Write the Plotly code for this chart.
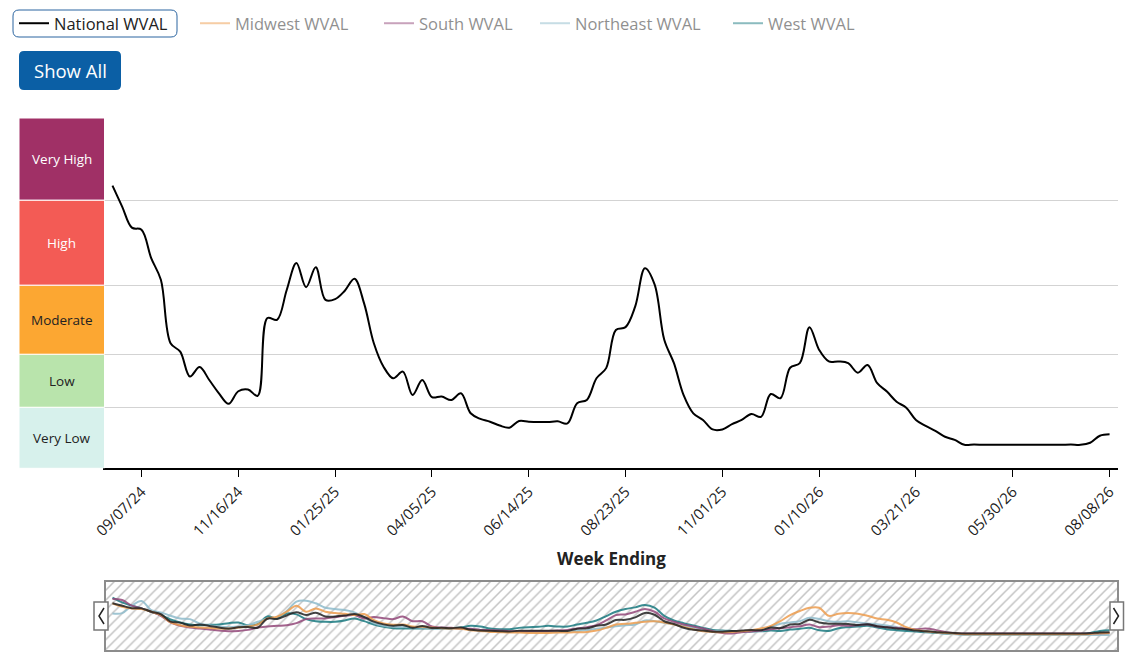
import pandas as pd
import plotly.graph_objects as go

# weekly WVAL (display scale 0-10, see level_edges)
weeks = pd.date_range("2024-08-17", periods=104, freq="7D")

national_wval = [
    8.07, 7.47, 6.87, 6.81, 6.0, 5.38, 3.57, 3.33, 2.62, 2.89, 2.52, 2.14, 1.84,
    2.2, 2.25, 2.07, 4.29, 4.24, 5.09, 5.86, 5.17, 5.74, 4.81, 4.83, 5.07, 5.41,
    4.7, 3.57, 2.9, 2.57, 2.76, 2.09, 2.52, 2.03, 2.05, 1.95, 2.14, 1.57, 1.41,
    1.33, 1.22, 1.16, 1.35, 1.33, 1.32, 1.32, 1.34, 1.28, 1.86, 1.95, 2.57, 2.86,
    3.95, 4.03, 4.62, 5.71, 5.25, 3.67, 3.0, 2.09, 1.57, 1.38, 1.11, 1.11, 1.26,
    1.38, 1.55, 1.47, 2.12, 2.0, 2.87, 3.0, 4.03, 3.38, 3.05, 3.05, 3.0, 2.73,
    2.95, 2.43, 2.19, 1.9, 1.73, 1.38, 1.21, 1.07, 0.9, 0.81, 0.67, 0.68, 0.67,
    0.67, 0.67, 0.67, 0.67, 0.67, 0.67, 0.67, 0.67, 0.68, 0.67, 0.73, 0.93, 0.97,
]
midwest_wval = [
    8.05, 7.22, 6.81, 6.65, 5.99, 5.17, 3.37, 2.71, 2.3, 2.13, 2.05, 1.89, 1.89,
    2.13, 2.38, 2.87, 4.35, 4.76, 5.99, 7.47, 5.99, 6.81, 5.99, 5.66, 5.5, 5.17,
    5.42, 3.94, 3.12, 2.79, 2.87, 2.38, 2.3, 2.13, 1.97, 1.89, 1.81, 1.48, 1.31,
    1.07, 0.99, 0.9, 0.9, 0.82, 0.82, 0.82, 0.9, 0.9, 0.99, 1.07, 1.4, 2.05,
    2.87, 3.04, 3.28, 3.53, 3.69, 3.37, 2.87, 2.3, 1.72, 1.23, 1.07, 0.99, 1.07,
    1.23, 1.48, 1.89, 2.55, 3.69, 5.17, 6.16, 6.98, 6.98, 5.0, 5.5, 5.66, 5.5,
    5.0, 4.35, 4.02, 3.37, 2.22, 1.56, 1.23, 0.99, 0.82, 0.66, 0.49, 0.49, 0.49,
    0.49, 0.49, 0.49, 0.49, 0.49, 0.49, 0.49, 0.49, 0.49, 0.49, 0.57, 0.74, 0.82,
]
south_wval = [
    9.11, 8.87, 7.47, 6.81, 5.99, 5.0, 3.37, 2.55, 2.13, 1.89, 1.64, 1.4, 1.23,
    1.31, 1.56, 2.13, 2.38, 2.55, 2.71, 3.2, 4.19, 4.35, 4.35, 4.68, 5.0, 5.17,
    4.35, 4.68, 4.43, 4.19, 4.84, 3.69, 3.69, 2.38, 2.13, 2.05, 1.89, 1.81, 1.56,
    1.48, 1.4, 1.23, 1.23, 1.23, 1.31, 1.31, 1.4, 1.56, 1.89, 2.22, 2.71, 3.86,
    5.17, 5.34, 5.99, 6.65, 5.99, 4.35, 3.53, 2.87, 2.38, 1.89, 1.23, 0.82, 0.66,
    0.99, 1.15, 1.4, 1.72, 1.97, 2.22, 2.46, 2.87, 2.22, 2.38, 2.71, 2.55, 2.71,
    2.87, 2.38, 2.22, 2.05, 1.81, 1.72, 1.89, 1.56, 1.07, 0.74, 0.66, 0.66, 0.66,
    0.66, 0.66, 0.66, 0.66, 0.66, 0.66, 0.66, 0.66, 0.66, 0.66, 0.66, 0.74, 0.82,
]
northeast_wval = [
    5.58, 5.66, 7.47, 8.62, 6.4, 5.83, 5.0, 4.35, 4.19, 3.12, 2.71, 2.38, 2.22,
    2.38, 2.71, 3.53, 4.35, 4.6, 6.16, 8.46, 8.7, 8.05, 6.98, 6.65, 6.4, 5.83,
    4.6, 3.2, 2.55, 2.3, 2.3, 2.22, 2.05, 1.97, 1.89, 1.89, 1.89, 1.72, 1.56,
    1.48, 1.23, 1.07, 1.07, 1.07, 1.07, 1.07, 1.07, 1.15, 1.31, 1.48, 1.81, 2.13,
    2.46, 2.71, 2.87, 3.86, 3.69, 3.28, 2.87, 2.55, 2.13, 1.48, 1.31, 1.23, 1.07,
    1.07, 1.07, 1.31, 2.3, 3.04, 3.37, 3.69, 4.52, 4.19, 3.69, 3.53, 3.69, 3.37,
    3.12, 2.96, 2.63, 2.22, 1.81, 1.4, 1.15, 0.9, 0.66, 0.49, 0.33, 0.33, 0.33,
    0.33, 0.33, 0.33, 0.33, 0.33, 0.33, 0.33, 0.33, 0.33, 0.33, 0.33, 0.33, 0.33,
]
west_wval = [
    9.44, 8.29, 7.47, 6.81, 5.99, 5.17, 4.1, 3.37, 2.87, 2.71, 2.79, 2.87, 3.2,
    3.37, 2.71, 2.96, 4.84, 4.35, 5.58, 5.34, 4.19, 3.69, 3.53, 3.53, 3.86, 4.35,
    3.69, 2.87, 2.3, 1.97, 1.89, 1.89, 1.89, 1.89, 1.89, 1.97, 2.13, 2.55, 2.38,
    1.89, 1.72, 1.72, 2.05, 2.22, 2.3, 2.55, 2.38, 2.38, 2.87, 3.28, 3.86, 4.93,
    5.99, 6.65, 7.06, 7.64, 6.98, 5.0, 3.86, 3.2, 2.63, 2.05, 1.56, 1.4, 1.31,
    1.23, 1.23, 1.23, 1.4, 1.31, 1.64, 1.81, 2.05, 1.48, 1.31, 1.97, 2.22, 2.38,
    2.55, 2.13, 1.72, 1.48, 1.31, 1.15, 0.99, 0.82, 0.66, 0.57, 0.49, 0.49, 0.49,
    0.49, 0.49, 0.49, 0.49, 0.49, 0.49, 0.49, 0.49, 0.49, 0.57, 0.82, 1.31, 1.48,
]

series_names = ["National WVAL", "Midwest WVAL", "South WVAL", "Northeast WVAL", "West WVAL"]
series_values = [national_wval, midwest_wval, south_wval, northeast_wval, west_wval]
series_colors = ["#000000", "#ee9d4e", "#93487a", "#8fbccc", "#1a7a80"]

level_names = ["Very Low", "Low", "Moderate", "High", "Very High"]
level_edges = [0, 1.743, 3.257, 5.229, 7.657, 10]
level_colors = ["#d7f1ec", "#b9e4ac", "#fca732", "#f35b55", "#a03066"]
level_text_colors = ["#222222", "#222222", "#222222", "#ffffff", "#ffffff"]

# page geometry (pixels)
W, H = 1139, 670
M_L, M_R, M_T, M_B = 105, 21, 118, 19
PW = W - M_L - M_R
PH = H - M_T - M_B


def fx(px):
    return (px - M_L) / PW


def fy(py):
    return (H - M_B - py) / PH


def rrect(x0, y0, x1, y1, r):
    return (f"M{fx(x0 + r)},{fy(y0)} L{fx(x1 - r)},{fy(y0)} Q{fx(x1)},{fy(y0)} {fx(x1)},{fy(y0 + r)} "
            f"L{fx(x1)},{fy(y1 - r)} Q{fx(x1)},{fy(y1)} {fx(x1 - r)},{fy(y1)} "
            f"L{fx(x0 + r)},{fy(y1)} Q{fx(x0)},{fy(y1)} {fx(x0)},{fy(y1 - r)} "
            f"L{fx(x0)},{fy(y0 + r)} Q{fx(x0)},{fy(y0)} {fx(x0 + r)},{fy(y0)} Z")


x_lo = weeks[0] - pd.Timedelta(days=5.4)
x_hi = weeks[-1] + pd.Timedelta(days=6.1)
slider_y = [-3.6, 13.5]

legend_ids = ["legend", "legend2", "legend3", "legend4", "legend5"]
legend_left = [14, 195, 379, 535, 728]

fig = go.Figure()

# main chart: national shown, regions legend-only
for name, vals, col, lg in zip(series_names, series_values, series_colors, legend_ids):
    fig.add_trace(go.Scatter(
        x=weeks, y=vals, name=name, mode='lines', legend=lg,
        line=dict(color=col, width=2, shape='spline', smoothing=1),
        visible=True if name == "National WVAL" else 'legendonly',
        xaxis='x', yaxis='y',
    ))

# range overview: hatched background + all series
fig.add_trace(go.Scatter(
    x=[x_lo, x_hi, x_hi, x_lo], y=[slider_y[0], slider_y[0], slider_y[1], slider_y[1]],
    fill='toself', mode='lines', line=dict(width=0), fillcolor='white',
    fillpattern=dict(shape='/', fgcolor='#888888', bgcolor='white', size=7, solidity=0.22),
    showlegend=False, hoverinfo='skip', xaxis='x2', yaxis='y2',
))
for name, vals, col in zip(series_names[::-1], series_values[::-1], series_colors[::-1]):
    fig.add_trace(go.Scatter(
        x=weeks, y=vals, mode='lines', showlegend=False, hoverinfo='skip',
        line=dict(color=col if col != "#000000" else "#222222", width=2, shape='spline', smoothing=1),
        opacity=0.85, xaxis='x2', yaxis='y2',
    ))

shapes = []
annotations = []

# level bands on the left
for i, name in enumerate(level_names):
    shapes.append(dict(type='rect', xref='paper', yref='y', x0=fx(19), x1=fx(104.5),
                       y0=level_edges[i], y1=level_edges[i + 1],
                       fillcolor=level_colors[i], line=dict(color='white', width=1)))
    annotations.append(dict(xref='paper', yref='y', x=fx(61.5),
                            y=(level_edges[i] + level_edges[i + 1]) / 2,
                            xanchor='center', yanchor='middle',
                            text=name, showarrow=False,
                            font=dict(size=13.5, color=level_text_colors[i])))

# overview box and handles
shapes.append(dict(type='rect', xref='x2 domain', yref='y2 domain', x0=0, x1=1, y0=0, y1=1,
                   line=dict(color='#8c8c8c', width=2)))
for hx0, hx1, chev in [(94, 108, [104, 99]), (1110, 1123.5, [1113.5, 1118.5])]:
    shapes.append(dict(type='rect', xref='paper', yref='paper', x0=fx(hx0), x1=fx(hx1),
                       y0=fy(630), y1=fy(602), fillcolor='white',
                       line=dict(color='#777777', width=1.5)))
    shapes.append(dict(type='path', xref='paper', yref='paper',
                       path=f"M{fx(chev[0])},{fy(608)} L{fx(chev[1])},{fy(616)} L{fx(chev[0])},{fy(624)}",
                       line=dict(color='#222222', width=1.5)))

# legend highlight + Show All button
shapes.append(dict(type='path', xref='paper', yref='paper', path=rrect(13, 10, 177, 37, 6),
                   line=dict(color='#2a64a0', width=1)))
shapes.append(dict(type='path', xref='paper', yref='paper', path=rrect(19, 51, 121, 90, 5),
                   fillcolor='#0b5fa5', line=dict(width=0)))
annotations.append(dict(xref='paper', yref='paper', x=fx(70), y=fy(71), text='Show All',
                        xanchor='center', yanchor='middle',
                        showarrow=False, font=dict(size=18.5, color='white')))
annotations.append(dict(xref='paper', yref='paper', x=fx(611), y=fy(558),
                        xanchor='center', yanchor='middle',
                        text='<b>Week Ending</b>', showarrow=False,
                        font=dict(size=17, color='#222222')))

layout_legends = {}
for lg, left in zip(legend_ids, legend_left):
    layout_legends[lg] = dict(orientation='h', x=fx(left), y=fy(6), xanchor='left', yanchor='top',
                              font=dict(size=16.5, color='#222222'), bgcolor='rgba(0,0,0,0)')

fig.update_layout(
    width=W, height=H,
    margin=dict(l=M_L, r=M_R, t=M_T, b=M_B, autoexpand=False),
    paper_bgcolor='white', plot_bgcolor='white',
    font=dict(family='Open Sans', color='#222222'),
    showlegend=True,
    xaxis=dict(domain=[0, 1], anchor='y', type='date', range=[x_lo, x_hi],
               tick0='2024-09-07', dtick=70 * 86400000, tickformat='%m/%d/%y',
               tickangle=-45, ticks='outside', ticklen=7, tickcolor='black',
               showline=True, linecolor='black', linewidth=1.5, showgrid=False,
               zeroline=False, tickfont=dict(size=15, color='#222222')),
    yaxis=dict(domain=[fy(468.3), 1], anchor='x', range=[0, 10],
               tickvals=level_edges[1:], showticklabels=False, ticks='',
               gridcolor='#d3d3d3', gridwidth=1, showline=True, linecolor='black',
               linewidth=1.5, zeroline=False, fixedrange=True),
    xaxis2=dict(domain=[0, 1], anchor='y2', type='date', range=[x_lo, x_hi], visible=False),
    yaxis2=dict(domain=[0, fy(581)], anchor='x2', range=slider_y, visible=False),
    shapes=shapes,
    annotations=annotations,
    **layout_legends,
)

fig.write_html("out.html", config={'displayModeBar': False},
               post_script="document.body.style.margin='0px';document.body.style.overflow='hidden';")
